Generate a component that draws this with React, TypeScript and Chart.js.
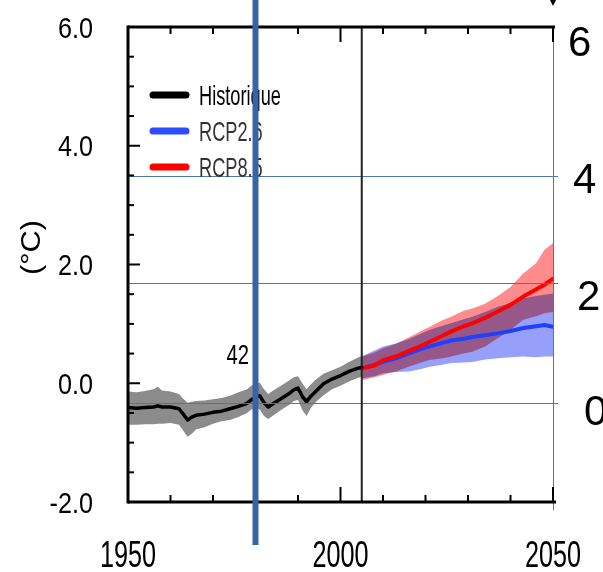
import React, { useEffect, useRef } from 'react';
import { Chart, registerables } from 'chart.js';

// ---------- data ----------
const histYears = [1950, 1952, 1954, 1956, 1957, 1958, 1960, 1962, 1963, 1964, 1965, 1966, 1968, 1970, 1972, 1974, 1976, 1978, 1979, 1980, 1981, 1982, 1983, 1984, 1986, 1988, 1989, 1990, 1991, 1992, 1993, 1994, 1996, 1998, 2000, 2002, 2004, 2005];
const histMean = [-0.41, -0.42, -0.41, -0.40, -0.38, -0.40, -0.40, -0.43, -0.52, -0.62, -0.57, -0.54, -0.52, -0.49, -0.47, -0.43, -0.39, -0.34, -0.28, -0.24, -0.21, -0.33, -0.40, -0.35, -0.26, -0.17, -0.11, -0.08, -0.22, -0.31, -0.22, -0.15, -0.01, 0.07, 0.13, 0.20, 0.25, 0.27];
const histUpper = [-0.14, -0.15, -0.13, -0.10, -0.06, -0.12, -0.14, -0.18, -0.26, -0.33, -0.31, -0.30, -0.29, -0.27, -0.25, -0.21, -0.15, -0.10, -0.04, 0.00, 0.01, -0.10, -0.18, -0.13, -0.04, 0.05, 0.10, 0.12, 0.00, -0.10, -0.02, 0.05, 0.16, 0.22, 0.28, 0.36, 0.43, 0.46];
const histLower = [-0.70, -0.70, -0.69, -0.69, -0.68, -0.68, -0.67, -0.70, -0.80, -0.90, -0.85, -0.78, -0.74, -0.68, -0.64, -0.62, -0.57, -0.50, -0.44, -0.42, -0.44, -0.55, -0.60, -0.55, -0.45, -0.36, -0.30, -0.28, -0.45, -0.55, -0.42, -0.33, -0.20, -0.10, -0.04, 0.03, 0.09, 0.11];

const projYears = [2005, 2008, 2010, 2013, 2016, 2019, 2021, 2024, 2026, 2029, 2031, 2034, 2037, 2040, 2043, 2046, 2048, 2050];
const rcp85Mean = [0.25, 0.30, 0.39, 0.45, 0.54, 0.63, 0.70, 0.80, 0.87, 0.96, 1.01, 1.10, 1.21, 1.32, 1.46, 1.58, 1.66, 1.76];
const rcp85Upper = [0.45, 0.52, 0.59, 0.66, 0.77, 0.88, 0.95, 1.06, 1.12, 1.22, 1.26, 1.34, 1.47, 1.62, 1.85, 2.02, 2.25, 2.36];
const rcp85Lower = [0.05, 0.10, 0.14, 0.20, 0.28, 0.35, 0.39, 0.42, 0.45, 0.50, 0.53, 0.62, 0.76, 0.90, 1.07, 1.13, 1.18, 1.20];
const rcp26Mean = [0.25, 0.31, 0.36, 0.42, 0.50, 0.58, 0.62, 0.68, 0.72, 0.75, 0.78, 0.81, 0.84, 0.88, 0.93, 0.96, 0.98, 0.95];
const rcp26Upper = [0.45, 0.55, 0.62, 0.67, 0.74, 0.84, 0.90, 0.97, 1.01, 1.08, 1.12, 1.20, 1.29, 1.35, 1.43, 1.47, 1.49, 1.51];
const rcp26Lower = [0.08, 0.12, 0.17, 0.19, 0.20, 0.24, 0.28, 0.31, 0.34, 0.35, 0.36, 0.40, 0.42, 0.44, 0.45, 0.44, 0.45, 0.45];

const yTickLabels = ['-2.0', '0.0', '2.0', '4.0', '6.0'];
const yTickValues = [-2, 0, 2, 4, 6];
const xTickLabels = ['1950', '2000', '2050'];
const xTickValues = [1950, 2000, 2050];
const legendLabels = ['Historique', 'RCP2.6', 'RCP8.5'];
const legendColors = ['#000000', '#2a4dff', '#ff0000'];

// overlay (second, misaligned axis)
const overlayLevels = [3.49, 1.69, -0.33];
const rightLabels = ['6', '4', '2', '0'];
const rightLabelValues = [5.77, 3.46, 1.49, -0.45];
const annotationText = '42';
const annotationYear = 1975.8;
const annotationValue = 0.49;
const markerYear = 1980;
const scenarioStartYear = 2005;

const pts = (xs: number[], ys: number[]) => xs.map((x, i) => ({ x, y: ys[i] }));

// multiply blending for uncertainty bands (registered before filler so it wraps the fill)
const bandBlend = {
  id: 'bandBlend',
  beforeDatasetDraw(chart: any, args: any) {
    const ds = chart.data.datasets[args.index];
    if (ds && ds.band) {
      chart.ctx.save();
      chart.ctx.globalCompositeOperation = 'multiply';
    }
  },
  afterDatasetDraw(chart: any, args: any) {
    const ds = chart.data.datasets[args.index];
    if (ds && ds.band) chart.ctx.restore();
  },
};
Chart.register(bandBlend);
Chart.register(...registerables);

const FAM = '"Liberation Sans", Arial, Helvetica, sans-serif';

function txt(ctx: CanvasRenderingContext2D, s: string, x: number, y: number, size: number, sx: number, sy: number, align: CanvasTextAlign, color = '#000', rot = 0) {
  ctx.save();
  ctx.translate(x, y);
  if (rot) ctx.rotate(rot);
  ctx.scale(sx, sy);
  ctx.font = `${size}px ${FAM}`;
  ctx.textAlign = align;
  ctx.textBaseline = 'alphabetic';
  ctx.fillStyle = color;
  ctx.fillText(s, 0, size * 0.358);
  ctx.restore();
}

function seg(ctx: CanvasRenderingContext2D, x1: number, y1: number, x2: number, y2: number) {
  ctx.beginPath();
  ctx.moveTo(x1, y1);
  ctx.lineTo(x2, y2);
  ctx.stroke();
}

const decor = {
  id: 'decor',
  afterDraw(chart: any) {
    const { ctx, chartArea: ca, scales } = chart;
    const X = (v: number) => scales.x.getPixelForValue(v);
    const Y = (v: number) => scales.y.getPixelForValue(v);
    ctx.save();
    ctx.lineCap = 'butt';

    // overlay thin blue lines
    ctx.strokeStyle = '#4a76b8';
    ctx.lineWidth = 1;
    overlayLevels.forEach((v) => {
      const py = Math.round(Y(v)) + 0.5;
      seg(ctx, ca.left, py, ca.right + 5, py);
    });
    const rx = Math.round(X(2050)) + 0.5;
    seg(ctx, rx, ca.top, rx, ca.bottom + 8);

    // scenario start line
    ctx.strokeStyle = '#222';
    ctx.lineWidth = 2;
    seg(ctx, X(scenarioStartYear), ca.top, X(scenarioStartYear), ca.bottom);

    // frame
    ctx.strokeStyle = '#000';
    ctx.lineWidth = 3;
    seg(ctx, ca.left, ca.top - 1.5, ca.left, ca.bottom + 1.5);
    seg(ctx, ca.left, ca.top, ca.right + 2, ca.top);
    seg(ctx, ca.left, ca.bottom, ca.right + 3, ca.bottom);

    // y ticks (inward)
    ctx.lineWidth = 2;
    for (let v = -2; v <= 6.001; v += 0.5) {
      const len = Math.abs(v % 2) < 1e-6 ? 12 : 6;
      seg(ctx, ca.left, Y(v), ca.left + len, Y(v));
    }
    // x ticks (inward, bottom and top)
    for (let yr = 1960; yr <= 2050; yr += 10) {
      const len = yr % 50 === 0 ? 15 : 7;
      seg(ctx, X(yr), ca.bottom, X(yr), ca.bottom - len);
      seg(ctx, X(yr), ca.top, X(yr), ca.top + len);
    }

    // tick labels
    yTickValues.forEach((v, i) => txt(ctx, yTickLabels[i], ca.left - 35, Y(v), 30, 0.84, 1.0, 'right'));
    xTickValues.forEach((v, i) => txt(ctx, xTickLabels[i], X(v), ca.bottom + 51, 36, 0.7, 1.05, 'center'));

    // y title
    txt(ctx, '(°C)', 30, (ca.top + ca.bottom) / 2 - 17, 28, 1.1, 1.0, 'center', '#000', -Math.PI / 2);

    // legend
    ctx.lineCap = 'round';
    ctx.lineWidth = 7;
    legendLabels.forEach((lab, i) => {
      const ly = ca.top + 68 + i * 36;
      ctx.strokeStyle = legendColors[i];
      seg(ctx, ca.left + 25, ly, ca.left + 58, ly);
      txt(ctx, lab, ca.left + 71, ly, 26, 0.7, 1.05, 'left', i === 0 ? '#000' : '#333');
    });
    ctx.lineCap = 'butt';

    // annotation
    txt(ctx, annotationText, X(annotationYear), Y(annotationValue), 27, 0.75, 1.0, 'center');

    // thick blue marker line
    ctx.strokeStyle = '#3565a8';
    ctx.lineWidth = 6;
    seg(ctx, X(markerYear), 0, X(markerYear), ca.bottom + 43);

    // right-hand labels
    rightLabels.forEach((lab, i) => txt(ctx, lab, [568, 573, 577, 584][i], Y(rightLabelValues[i]), 42, 1, 1, 'left'));

    // small marker at top right
    ctx.fillStyle = '#000';
    ctx.beginPath();
    ctx.moveTo(X(2050) - 3, 0);
    ctx.lineTo(X(2050) + 3, 0);
    ctx.lineTo(X(2050), 6);
    ctx.closePath();
    ctx.fill();

    ctx.restore();
  },
};

export default function App() {
  const ref = useRef<HTMLCanvasElement | null>(null);
  useEffect(() => {
    if (!ref.current) return;
    const lineDs = (label: string, xs: number[], ys: number[], color: string, w: number) => ({
      label, data: pts(xs, ys), borderColor: color, borderWidth: w, pointRadius: 0, fill: false, tension: 0,
      borderJoinStyle: 'round', borderCapStyle: 'round',
    });
    const bandDs = (label: string, xs: number[], ys: number[], color: string | undefined) => ({
      label, data: pts(xs, ys), borderColor: 'rgba(0,0,0,0)', borderWidth: 1, pointRadius: 0,
      backgroundColor: color || 'rgba(0,0,0,0)', fill: color ? '+1' : false, tension: 0, band: true,
    });
    const chart = new Chart(ref.current, {
      type: 'line',
      data: {
        datasets: [
          lineDs('Historique', histYears, histMean, '#000000', 3.5),
          lineDs('RCP8.5', projYears, rcp85Mean, '#ff0000', 4),
          lineDs('RCP2.6', projYears, rcp26Mean, '#1f40ff', 4),
          bandDs('hist-hi', histYears, histUpper, '#8c8c8c'),
          bandDs('hist-lo', histYears, histLower, undefined),
          bandDs('rcp85-hi', projYears, rcp85Upper, '#ff8c8c'),
          bandDs('rcp85-lo', projYears, rcp85Lower, undefined),
          bandDs('rcp26-hi', projYears, rcp26Upper, '#96a0fa'),
          bandDs('rcp26-lo', projYears, rcp26Lower, undefined),
        ] as any,
      },
      options: {
        animation: false,
        responsive: false,
        devicePixelRatio: 1,
        layout: { padding: { left: 128, right: 50, top: 27, bottom: 70 } },
        scales: {
          x: { type: 'linear', min: 1950, max: 2050, display: false },
          y: { type: 'linear', min: -2, max: 6, display: false },
        },
        plugins: { legend: { display: false }, tooltip: { enabled: false } },
      },
      plugins: [decor],
    });
    return () => chart.destroy();
  }, []);
  return (
    <div style={{ position: 'fixed', left: 0, top: 0, width: 603, height: 572, background: '#fff' }}>
      <canvas ref={ref} width={603} height={572} style={{ width: 603, height: 572, display: 'block' }} />
    </div>
  );
}
